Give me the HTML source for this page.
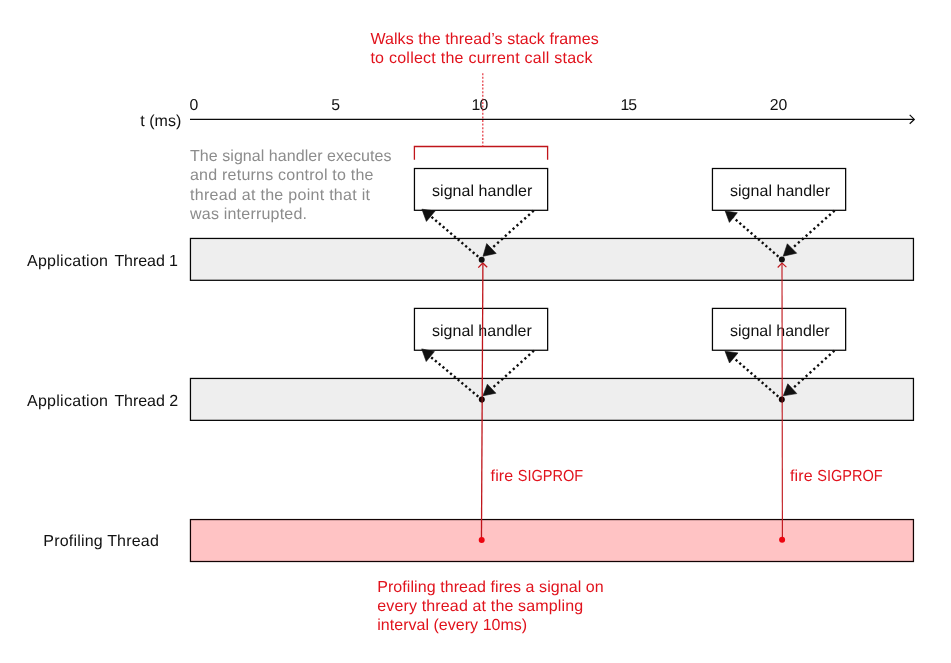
<!DOCTYPE html>
<html>
<head>
<meta charset="utf-8">
<title>Signal-based sampling profiler</title>
<style>
  html, body { margin: 0; padding: 0; background: #ffffff; }
  body { width: 951px; height: 663px; overflow: hidden; font-family: "Liberation Sans", sans-serif; }
  svg { display: block; will-change: transform; }
  text { font-family: "Liberation Sans", sans-serif; font-size: 16px; text-rendering: geometricPrecision; fill: #111111; }
  .red { fill: #e1131d; }
  .gray { fill: #8c8c8c; }
  .bar { fill: #eeeeee; stroke: #050505; stroke-width: 1.25; }
  .pbar { fill: #ffc3c4; stroke: #120303; stroke-width: 1.25; }
  .box { fill: #ffffff; stroke: #050505; stroke-width: 1.25; }
  .dotl { fill: none; stroke: #0c0c0c; stroke-width: 2.4; stroke-dasharray: 2.2 2.73; }
  .dotr { fill: none; stroke: #0c0c0c; stroke-width: 2.4; stroke-dasharray: 2.2 3; }
  .ah { fill: #111111; stroke: #111111; stroke-width: 0.6; stroke-linejoin: round; }
  .ax { font-size: 15.8px; }
  .rl { fill: none; stroke: #c0151b; stroke-width: 1.3; }
</style>
</head>
<body>
<svg width="951" height="663" viewBox="0 0 951 663">
  <rect x="0" y="0" width="951" height="663" fill="#ffffff"/>

  <!-- top red annotation -->
  <text class="red" x="370.4" y="43.9" textLength="228.3" lengthAdjust="spacing">Walks the thread’s stack frames</text>
  <text class="red" x="370.4" y="62.9" textLength="222.2" lengthAdjust="spacing">to collect the current call stack</text>

  <!-- axis -->
  <text class="ax" x="189.6" y="110.2">0</text>
  <text class="ax" x="331.3" y="110.2">5</text>
  <text class="ax" x="471.6" y="110.2" textLength="16.8">10</text>
  <text class="ax" x="620.6" y="110.2" textLength="16.4">15</text>
  <text class="ax" x="769.7" y="110.2" textLength="17.6">20</text>
  <text x="140.2" y="126" textLength="41.2">t (ms)</text>
  <line x1="190" y1="119.4" x2="914" y2="119.4" stroke="#0a0a0a" stroke-width="1.1"/>
  <polyline points="909.7,114.9 914.3,119.4 909.7,123.8" fill="none" stroke="#0a0a0a" stroke-width="1.2"/>

  <!-- gray description -->
  <text class="gray" x="190" y="161" textLength="201.5">The signal handler executes</text>
  <text class="gray" x="190" y="180" textLength="183.5">and returns control to the</text>
  <text class="gray" x="190" y="200" textLength="180">thread at the point that it</text>
  <text class="gray" x="190" y="219" textLength="117">was interrupted.</text>

  <!-- bars -->
  <rect class="bar" x="190.45" y="238.45" width="723" height="41.85"/>
  <rect class="bar" x="190.45" y="378.45" width="723" height="41.9"/>
  <rect class="pbar" x="190.45" y="519.55" width="723" height="41.95"/>

  <text y="266"><tspan x="27" textLength="81">Application</tspan><tspan x="114.4" textLength="50.4">Thread</tspan><tspan x="168.9">1</tspan></text>
  <text y="406"><tspan x="27" textLength="81">Application</tspan><tspan x="114.4" textLength="50.4">Thread</tspan><tspan x="169.2">2</tspan></text>
  <text x="43.3" y="546" textLength="115.5">Profiling Thread</text>

  <!-- red bracket + dotted -->
  <polyline class="rl" points="414.4,159.8 414.4,146.5 547.6,146.5 547.6,159.8"/>
  <line x1="482.8" y1="73.2" x2="482.8" y2="147" stroke="#e1131d" stroke-opacity="0.85" stroke-width="1.2" stroke-dasharray="2 1.6"/>

  <!-- red vertical fire lines (drawn under dots, over boxes) -->
  <!-- signal handler boxes -->
  <rect class="box" x="414.45" y="168.5" width="133.2" height="41.8"/>
  <rect class="box" x="712.45" y="168.5" width="133.2" height="41.8"/>
  <rect class="box" x="414.45" y="308.4" width="133.2" height="41.85"/>
  <rect class="box" x="712.45" y="308.4" width="133.2" height="41.85"/>
  <text x="432" y="195.6" textLength="100.3">signal handler</text>
  <text x="730" y="195.6" textLength="100">signal handler</text>
  <text x="432" y="335.7" textLength="99.8">signal handler</text>
  <text x="730" y="335.7" textLength="99.7">signal handler</text>

  <!-- set 1 -->
  <line class="dotr" x1="533.7" y1="210.6" x2="491.45" y2="248.5"/>
  <polygon class="ah" points="483,256.3 486.7,243.6 496.2,253.4"/>
  <line class="dotl" x1="478.2" y1="256.7" x2="430.7" y2="216.2"/>
  <polygon class="ah" points="421.9,209.2 435.1,211 426.4,221.4"/>
  <!-- set 2 -->
  <line class="dotr" x1="834.6" y1="210.6" x2="792" y2="248.5"/>
  <polygon class="ah" points="783.2,256.2 787.3,243.8 796.7,253.2"/>
  <line class="dotl" x1="778.4" y1="256.6" x2="733.4" y2="217.6"/>
  <polygon class="ah" points="725.2,211 737.3,212.7 729.4,222.4"/>
  <!-- set 3 -->
  <line class="dotr" x1="533.9" y1="350.7" x2="491.65" y2="388.7"/>
  <polygon class="ah" points="482.9,395.8 487.4,384.2 495.9,393.2"/>
  <line class="dotl" x1="478.3" y1="396.65" x2="430.3" y2="356.55"/>
  <polygon class="ah" points="421.7,348.9 434.4,351.6 426.2,361.5"/>
  <!-- set 4 -->
  <line class="dotr" x1="834.4" y1="350.7" x2="792.3" y2="388.7"/>
  <polygon class="ah" points="783.3,395.8 787.8,383.8 796.8,393.6"/>
  <line class="dotl" x1="778.3" y1="396.6" x2="733.75" y2="357.95"/>
  <polygon class="ah" points="725,351.2 738,352.9 729.5,363"/>

  <!-- red fire lines -->
  <line class="rl" x1="481.45" y1="540" x2="482.9" y2="263.5"/>
  <polyline class="rl" points="478.3,267.6 482.8,263 487.2,267.2"/>
  <line class="rl" x1="782.4" y1="540" x2="782" y2="263.5" style="stroke-width:1.1"/>
  <polyline class="rl" points="777.7,267.5 782,263 786.4,267.2" style="stroke-width:1.1"/>

  <!-- dots -->
  <circle cx="481.7" cy="259.7" r="3" fill="#111111"/>
  <circle cx="781.9" cy="259.6" r="3" fill="#111111"/>
  <circle cx="481.8" cy="399.6" r="3" fill="#140404"/>
  <circle cx="781.8" cy="399.6" r="3" fill="#140404"/>
  <line x1="482.18" y1="397" x2="482.15" y2="402.4" stroke="#7a1013" stroke-width="1.3"/>
  <line x1="782.2" y1="397" x2="782.2" y2="402.4" stroke="#7a1013" stroke-width="1.1"/>
  <circle cx="481.7" cy="539.9" r="3" fill="#ec0510"/>
  <circle cx="782.1" cy="539.8" r="3" fill="#ec0510"/>

  <text class="red" x="490.6" y="480.8" textLength="22.6">fire</text>
  <text class="red" x="517.8" y="480.8" textLength="65.4" lengthAdjust="spacingAndGlyphs">SIGPROF</text>
  <text class="red" x="790.0" y="480.8" textLength="22.6">fire</text>
  <text class="red" x="817.2" y="480.8" textLength="65.4" lengthAdjust="spacingAndGlyphs">SIGPROF</text>

  <!-- bottom red annotation -->
  <text class="red" x="377.2" y="592" textLength="226.5">Profiling thread fires a signal on</text>
  <text class="red" x="377.2" y="611" textLength="206">every thread at the sampling</text>
  <text class="red" x="377.2" y="630" textLength="150">interval (every 10ms)</text>
</svg>
</body>
</html>
